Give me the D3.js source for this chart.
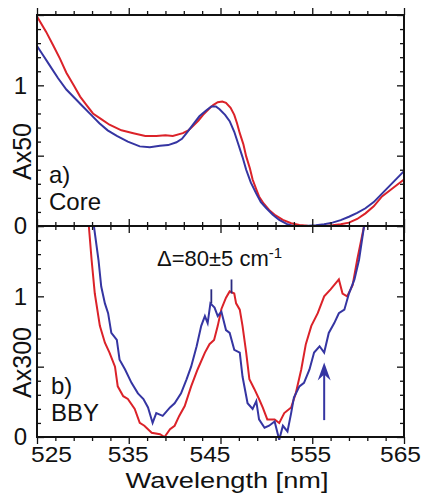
<!DOCTYPE html>
<html>
<head>
<meta charset="utf-8">
<script src="https://cdn.jsdelivr.net/npm/d3@7"></script>
<style>
  body { margin: 0; background: #fff; }
  svg text { font-family: "Liberation Sans", Arial, Helvetica, sans-serif; fill: #111; }
</style>
</head>
<body>
<div id="chart"></div>
<script>
// x axis (nm) and y ticks
var xTicks = [525, 535, 545, 555, 565];
var yLabelTicks = [0, 1];

// panel a) Core, Ax50  [wavelength nm, value]
var coreRed = [[525,1.49],[526,1.38],[526.8,1.28],[527.5,1.19],[528.2,1.09],[529,1.0],[529.7,0.92],[530.4,0.86],[531.1,0.8],[532,0.76],[532.9,0.72],[534.2,0.68],[535.5,0.66],[536.8,0.64],[538,0.64],[539,0.645],[539.8,0.64],[540.9,0.66],[541.5,0.68],[542,0.71],[542.6,0.75],[543.1,0.79],[543.7,0.83],[544.2,0.86],[544.7,0.88],[545.2,0.885],[545.6,0.876],[546.1,0.84],[546.5,0.79],[546.8,0.73],[547.1,0.66],[547.5,0.58],[547.8,0.495],[548.2,0.41],[548.5,0.33],[548.9,0.26],[549.2,0.21],[549.7,0.16],[550.3,0.114],[551,0.075],[551.8,0.043],[552.7,0.02],[553.6,0.007],[554.5,0.002],[555.4,0],[556.3,0],[557.2,0.005],[558.1,0.012],[559,0.024],[559.9,0.05],[560.8,0.09],[561.7,0.14],[562.6,0.21],[563.8,0.27],[565,0.33]];
var coreBlue = [[525,1.28],[525.7,1.21],[526.4,1.14],[527.3,1.05],[528.2,0.97],[529.1,0.91],[530,0.85],[530.9,0.79],[531.8,0.73],[532.7,0.68],[533.7,0.64],[534.9,0.6],[536.2,0.566],[537.3,0.56],[538.4,0.57],[539.3,0.575],[540.2,0.595],[540.8,0.62],[541.3,0.66],[542,0.72],[542.7,0.78],[543.4,0.82],[544,0.85],[544.5,0.85],[544.9,0.83],[545.5,0.79],[546,0.745],[546.5,0.67],[546.9,0.59],[547.4,0.49],[547.8,0.4],[548.3,0.31],[548.9,0.23],[549.4,0.17],[550,0.126],[550.7,0.08],[551.4,0.043],[552.2,0.015],[552.9,0],[554.2,0],[555.4,0.005],[556.3,0.012],[557.2,0.024],[558.1,0.042],[559,0.066],[559.9,0.093],[560.8,0.126],[561.7,0.17],[562.6,0.23],[563.8,0.31],[565,0.39]];

// panel b) BBY, Ax300
var bbyRed = [[530.65,1.5],[530.95,1.26],[531.3,1.02],[531.85,0.79],[532.4,0.67],[532.9,0.6],[533.5,0.5],[533.8,0.36],[534.4,0.29],[534.9,0.27],[535.65,0.2],[536.2,0.1],[536.7,0.08],[537.5,0.03],[538.4,0.02],[538.9,0],[539.5,0.055],[540,0.08],[540.5,0.15],[541.1,0.22],[541.8,0.36],[542.5,0.48],[543.3,0.6],[543.8,0.66],[544.3,0.69],[544.7,0.79],[545.1,0.91],[545.6,0.99],[546,1.035],[546.5,1.02],[546.7,0.95],[547.1,0.905],[547.4,0.79],[547.8,0.6],[548.15,0.41],[548.7,0.34],[549.2,0.27],[549.6,0.21],[550.1,0.125],[550.9,0.125],[551.4,0.1],[551.95,0.17],[552.7,0.21],[553.2,0.31],[553.8,0.48],[554.3,0.66],[554.9,0.79],[555.6,0.88],[556.3,1.0],[557,1.05],[557.9,1.12],[558.3,1.02],[558.8,1.0],[559.4,1.08],[559.9,1.26],[560.65,1.5]];
var bbyBlue = [[531.2,1.5],[531.7,1.26],[532,1.07],[532.4,0.95],[532.75,0.88],[533.1,0.74],[533.7,0.69],[534,0.55],[534.6,0.48],[535.3,0.385],[536,0.31],[536.6,0.27],[537.1,0.21],[537.6,0.1],[538,0.17],[538.7,0.15],[539.5,0.21],[540,0.24],[540.7,0.31],[541.3,0.41],[541.8,0.5],[542.4,0.645],[542.9,0.79],[543.3,0.86],[543.6,0.81],[543.9,0.95],[544.35,0.92],[544.7,0.86],[545.1,0.89],[545.6,0.76],[546,0.74],[546.5,0.62],[547.1,0.6],[547.4,0.43],[547.95,0.24],[548.5,0.2],[548.9,0.255],[549.2,0.125],[549.8,0.066],[550.3,0.08],[550.9,0.11],[551.4,-0.02],[551.8,0.08],[552.3,0.04],[552.7,0.17],[553,0.28],[553.6,0.36],[554.1,0.385],[554.7,0.48],[555.2,0.6],[555.8,0.645],[556.3,0.6],[556.8,0.74],[557.4,0.81],[557.9,0.88],[558.5,0.905],[559,1.02],[559.6,1.12],[560.1,1.26],[560.65,1.5]];

// peak markers (nm, value from, value to) and arrow (nm, from, to)
var peakMarks = [[544.0, 0.95, 1.05], [546.2, 1.02, 1.12]];
var arrowMark = [556.3, 0.12, 0.53];

var w = 428, h = 495;
var red = "#db2229", blue = "#3535a2";

var svg = d3.select("#chart").append("svg")
    .attr("width", w)
    .attr("height", h);

var xscale = d3.scaleLinear().domain([525, 565]).range([37, 404]);

var panels = [
    { data: [coreRed, coreBlue], top: 15, bottom: 226, lab1: "a)", lab2: "Core", ylab: "Ax50" },
    { data: [bbyRed, bbyBlue], top: 226, bottom: 437, lab1: "b)", lab2: "BBY", ylab: "Ax300" }
];

var minorX = d3.range(525, 566, 2).filter(v => v % 10 != 5);
var minorY = d3.range(0, 1.51, 0.1).filter(v => Math.abs(v * 2 - Math.round(v * 2)) > 0.01);

function tickAxis(g, axis, vals, size) {
    g.call(axis.tickValues(vals).tickSize(size).tickFormat(""));
    g.select(".domain").remove();
    g.selectAll(".tick line").attr("stroke", "#111").attr("stroke-width", 1.3);
}

panels.forEach(function(p, k) {
    var yscale = d3.scaleLinear().domain([0, 1.5]).range([p.bottom, p.top]);

    //inward ticks on all four sides
    [[d3.axisBottom, p.top], [d3.axisTop, p.bottom]].forEach(function(a) {
        var g = svg.append("g").attr("transform", "translate(0," + a[1] + ")");
        tickAxis(g, a[0](xscale), minorX, -4);
        var g2 = svg.append("g").attr("transform", "translate(0," + a[1] + ")");
        tickAxis(g2, a[0](xscale), xTicks, -7);
    });
    [[d3.axisLeft, 37], [d3.axisRight, 404]].forEach(function(a) {
        var g = svg.append("g").attr("transform", "translate(" + a[1] + ",0)");
        tickAxis(g, a[0](yscale), minorY, -4);
        var g2 = svg.append("g").attr("transform", "translate(" + a[1] + ",0)");
        tickAxis(g2, a[0](yscale), [0, 0.5, 1, 1.5], -7);
    });

    //y tick labels
    var yl = svg.append("g").attr("transform", "translate(37,0)")
        .call(d3.axisLeft(yscale).tickValues(yLabelTicks).tickSize(0).tickPadding(10).tickFormat(d3.format("d")));
    yl.select(".domain").remove();
    yl.selectAll("text").style("font-size", "24px").attr("fill", "#111");

    //curves
    var line = d3.line()
        .x(d => xscale(d[0]))
        .y(d => yscale(d[1]));
    svg.append("path").datum(p.data[0])
        .attr("d", line).attr("fill", "none").attr("stroke", red).attr("stroke-width", 2);
    svg.append("path").datum(p.data[1])
        .attr("d", line).attr("fill", "none").attr("stroke", blue).attr("stroke-width", 2);

    //frame
    svg.append("rect")
        .attr("x", 37).attr("y", p.top)
        .attr("width", 404 - 37).attr("height", p.bottom - p.top)
        .attr("fill", "none").attr("stroke", "#111").attr("stroke-width", 2);

    //panel labels
    svg.append("text").attr("x", k == 0 ? 49 : 51).attr("y", p.bottom - 43)
        .style("font-size", "24px").text(p.lab1);
    svg.append("text").attr("x", k == 0 ? 49 : 51).attr("y", p.bottom - 16)
        .style("font-size", "24px").text(p.lab2);

    //y axis title
    var cy = (p.top + p.bottom) / 2 + 31;
    svg.append("text")
        .attr("transform", "translate(31," + cy + ") rotate(-90)")
        .attr("text-anchor", "middle")
        .style("font-size", "25px")
        .text(p.ylab);

    if (k == 1) {
        //peak markers
        svg.selectAll(".peak").data(peakMarks).enter().append("line")
            .attr("x1", d => xscale(d[0])).attr("x2", d => xscale(d[0]))
            .attr("y1", d => yscale(d[1])).attr("y2", d => yscale(d[2]))
            .attr("stroke", "#2a2a80").attr("stroke-width", 1.8);

        //arrow
        var ax = xscale(arrowMark[0]);
        var yTip = yscale(arrowMark[2]);
        svg.append("line")
            .attr("x1", ax).attr("x2", ax)
            .attr("y1", yscale(arrowMark[1])).attr("y2", yTip + 4)
            .attr("stroke", blue).attr("stroke-width", 2);
        svg.append("path")
            .attr("d", "M" + ax + "," + yTip + " L" + (ax - 6.5) + "," + (yTip + 18) + " L" + ax + "," + (yTip + 12) + " L" + (ax + 6.5) + "," + (yTip + 18) + " Z")
            .attr("fill", blue);

        //delta annotation
        var t = svg.append("text").attr("x", 157).attr("y", 266).style("font-size", "22px");
        t.append("tspan").text("\u0394=80\u00b15 cm");
        t.append("tspan").attr("dy", -8).style("font-size", "15px").text("-1");
    }
});

//x tick labels, nudged like the original
var xl = svg.append("g").attr("transform", "translate(0,437)")
    .call(d3.axisBottom(xscale).tickValues(xTicks).tickSize(0).tickPadding(9).tickFormat(d3.format("d")));
xl.select(".domain").remove();
var nudge = [14, -1, -11, -2, -4];
xl.selectAll("text").style("font-size", "22px").attr("fill", "#111")
    .attr("textLength", 41).attr("lengthAdjust", "spacingAndGlyphs")
    .attr("dx", (d, i) => nudge[i]);

svg.append("text")
    .attr("x", 227).attr("y", 488)
    .attr("text-anchor", "middle")
    .attr("textLength", 203).attr("lengthAdjust", "spacingAndGlyphs")
    .style("font-size", "22px")
    .text("Wavelength [nm]");
</script>
</body>
</html>
